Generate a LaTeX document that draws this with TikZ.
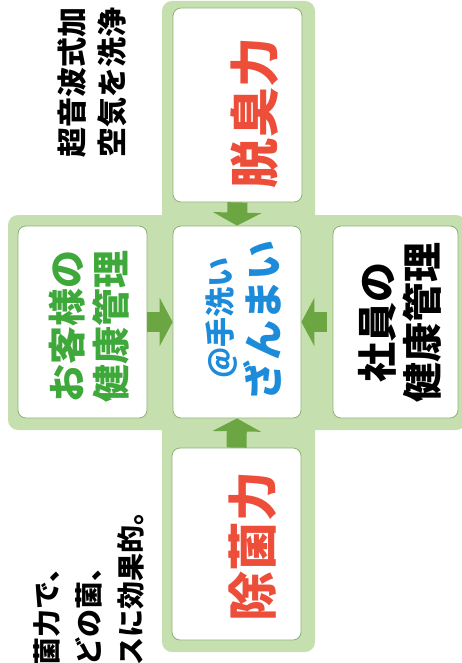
\documentclass[tikz,border=0pt]{standalone}
\usepackage{fontspec}
\newfontfamily\jpfont{Noto Sans CJK JP}
\usetikzlibrary{arrows.meta}
\definecolor{crossgreen}{RGB}{198,223,174}
\definecolor{edgegreen}{RGB}{140,178,118}
\definecolor{arrowgreen}{RGB}{108,166,66}
\definecolor{textred}{RGB}{236,78,58}
\definecolor{textgreen}{RGB}{62,168,58}
\definecolor{textblue}{RGB}{28,140,218}
\tikzstyle{panel}=[draw=edgegreen,line width=0.8pt,fill=white,rounded corners=8pt,inner sep=0pt]
\tikzstyle{fatarrow}=[draw=arrowgreen,line width=20pt,-{Triangle[length=13pt,width=48pt]}]
\tikzstyle{uptext}=[rotate=90,inner sep=0pt]
\newcommand{\jpsize}[2]{\jpfont\bfseries\fontsize{#1}{#2}\selectfont}

\begin{document}
\begin{tikzpicture}[x=1pt,y=-1pt]
  \useasboundingbox (0,0) rectangle (462,663);
  \clip (0,0) rectangle (462,663);

  % green cross
  \fill[crossgreen,rounded corners=10pt] (162,1) rectangle (315,652);
  \fill[crossgreen,rounded corners=10pt] (8,215) rectangle (466,430);

  \node[panel,minimum width=129,minimum height=194] (shu)    at (237.5,105) {};
  \node[panel,minimum width=129,minimum height=192] (okyaku) at (82.5,322)  {};
  \node[panel,minimum width=128,minimum height=192] (tearai) at (237,322)   {};
  \node[panel,minimum width=125,minimum height=192] (shain)  at (395.5,322) {};
  \node[panel,minimum width=129,minimum height=192] (jokin)  at (236.5,544) {};

  \draw[fatarrow] (shu.south)   -- (tearai.north);
  \draw[fatarrow] (jokin.north) -- (tearai.south);
  \draw[fatarrow] (okyaku.east) -- (tearai.west);
  \draw[fatarrow,shorten <=6pt] (shain.west) -- (tearai.east);

  \node[uptext,text=textred,font=\jpsize{50}{50}] at (254.5,113) {脱臭力};
  \node[uptext,text=textred,font=\jpsize{50}{50}] at (252.5,546) {除菌力};
  \node[uptext,text=textgreen,align=center,font=\jpsize{38}{44}] at (89.5,326)
    {お客様の\\健康管理};
  \node[uptext,align=center,font=\jpsize{40}{45}] at (400,322)
    {社員の\\健康管理};
  \node[uptext,text=textblue,font=\jpsize{30}{30}] at (222,318) {@手洗い};
  \node[uptext,text=textblue,font=\jpsize{40}{40}] at (262,320) {ざんまい};

  \node[uptext,anchor=west,align=left,font=\jpsize{30}{40}] at (92,158)
    {超音波式加\\空気を洗浄};
  \node[uptext,anchor=west,align=left,font=\jpsize{28}{42}] at (89,666)
    {菌力で、\\どの菌、\\スに効果的。};
\end{tikzpicture}
\end{document}
